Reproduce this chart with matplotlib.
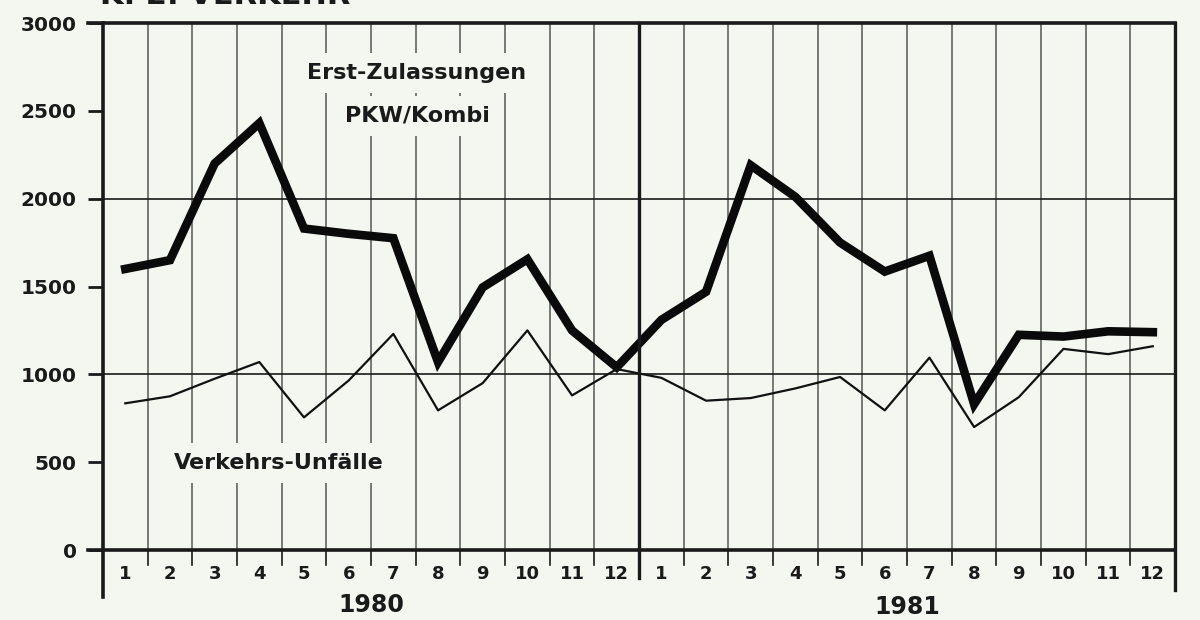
import numpy as np
import matplotlib
matplotlib.use("Agg")
import matplotlib.pyplot as plt

# monthly values 1980-1981
months = [str(m) for m in range(1, 13)] * 2
years = ["1980", "1981"]
zulassungen = [1600, 1650, 2200, 2430, 1830, 1800, 1775, 1070, 1495, 1655, 1250, 1040,
               1310, 1470, 2190, 2010, 1750, 1585, 1675, 830, 1225, 1215, 1245, 1240]
unfaelle = [835, 875, 975, 1070, 755, 965, 1230, 795, 950, 1250, 880, 1030,
            980, 850, 865, 920, 985, 795, 1095, 700, 870, 1145, 1115, 1160]
yticks = [0, 500, 1000, 1500, 2000, 2500, 3000]

BG = "#f4f6f0"
INK = "#1a1a1a"

plt.rcParams["font.family"] = ["DejaVu Sans"]
plt.rcParams["font.weight"] = "bold"

fig = plt.figure(figsize=(12, 6.2), dpi=100, facecolor=BG)
ax = fig.add_axes([0.0858, 0.1129, 0.8935, 0.85])
ax.set_facecolor(BG)

n = len(months)
x = np.arange(n) + 0.5
ax.set_xlim(0, n)
ax.set_ylim(0, 3000)

# month grid
for b in range(1, n):
    if b == 12:
        continue
    ax.axvline(b, color="#555555", lw=1.1, zorder=1)
    ax.plot([b, b], [0, -85], color=INK, lw=1.2, clip_on=False)
for yv in (1000, 2000):
    ax.axhline(yv, color=INK, lw=1.2, zorder=1)

# frame
ax.plot([0, 0], [-270, 3000], color=INK, lw=2.6, clip_on=False, zorder=4)
ax.plot([12, 12], [-160, 3000], color=INK, lw=2.4, clip_on=False, zorder=4)
ax.plot([n, n], [-225, 3000], color=INK, lw=2.4, clip_on=False, zorder=4)
ax.plot([-0.34, n], [3000, 3000], color=INK, lw=2.6, clip_on=False, zorder=4)
ax.plot([-0.34, n], [0, 0], color=INK, lw=2.6, clip_on=False, zorder=4)
for s in ax.spines.values():
    s.set_visible(False)

ax.plot(x, zulassungen, color="#0a0a0a", lw=6.2, solid_joinstyle="miter", zorder=3)
ax.plot(x, unfaelle, color="#111111", lw=1.6, zorder=3)

ax.set_xticks([])
ax.set_yticks(yticks)
ax.set_yticklabels([str(v) for v in yticks], fontsize=14.5, fontweight="bold", color=INK)
ax.tick_params(axis="y", length=11, width=2, color=INK, pad=8)

for xi, m in zip(x, months):
    ax.text(xi, -136, m, ha="center", va="center", fontsize=13, fontweight="bold",
            color=INK, clip_on=False)
ax.text(6, -315, years[0], ha="center", va="center", fontsize=17, fontweight="bold",
        color=INK, clip_on=False)
ax.text(18, -322, years[1], ha="center", va="center", fontsize=17, fontweight="bold",
        color=INK, clip_on=False)

box = dict(fc=BG, ec="none", pad=7)
ax.text(7.02, 2716, "Erst-Zulassungen", ha="center", va="center", fontsize=16,
        fontweight="bold", color=INK, bbox=box, zorder=5)
ax.text(7.05, 2472, "PKW/Kombi", ha="center", va="center", fontsize=16,
        fontweight="bold", color=INK, bbox=box, zorder=5)
ax.text(3.93, 494, "Verkehrs-Unfälle", ha="center", va="center", fontsize=16,
        fontweight="bold", color=INK, bbox=box, zorder=5)

# chapter heading, cut off by the top edge like in the scan
fig.text(0.083, 0.9935, "K. 2. VERKEHR", ha="left", va="baseline", fontsize=22,
         fontweight="bold", color=INK)

fig.savefig("out.png", dpi=100, facecolor=BG)
